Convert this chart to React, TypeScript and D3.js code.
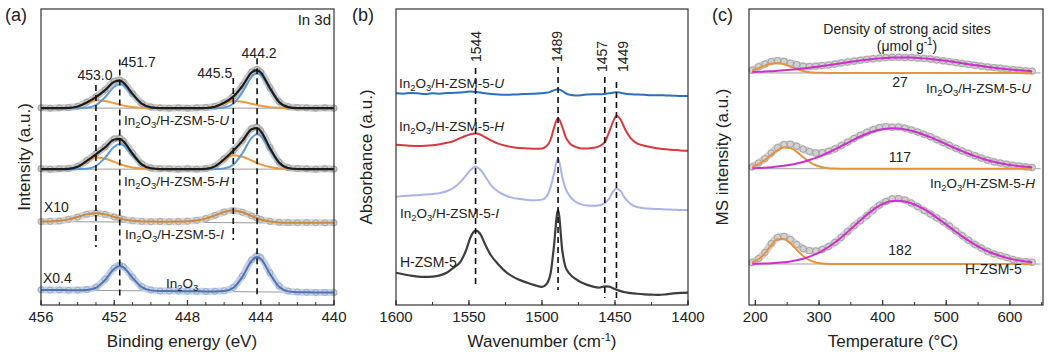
import React from "react";
import * as d3 from "d3";

const FONT = "'Liberation Sans', Arial, Helvetica, sans-serif";
const TOP = 9;
const BOTTOM = 305;

// ---------- (a) In 3d XPS ----------
const xpsEnergy = [456, 455.5, 455, 454.5, 454, 453.5, 453, 452.5, 452, 451.7, 451.5, 451, 450.5, 450, 449.5, 449, 448.5, 448, 447.5, 447, 446.5, 446, 445.5, 445, 444.5, 444.2, 444, 443.5, 443, 442.5, 442, 441.5, 441, 440.5, 440];
const xpsTicks = [456, 452, 448, 444, 440];
const xpsPeaks = [453.0, 451.7, 445.5, 444.2];
const xpsPeakLabels = ["453.0", "451.7", "445.5", "444.2"];
// stacking offsets (a.u.): U, H, I, In2O3
const xpsOffsets = [66.5, 45.9, 27.8, 4.2];

const xpsU = [0.1, 0.0, 0.1, 0.2, 0.6, 2.0, 3.8, 6.2, 9.1, 9.5, 8.8, 4.9, 1.6, 0.4, 0.1, 0.0, 0.1, 0.0, 0.1, 0.2, 0.6, 1.9, 4.0, 7.6, 12.2, 13.1, 12.2, 6.9, 2.2, 0.5, 0.2, 0.1, 0.0, 0.1, 0.0];
const xpsUFit = [0, 0, 0, 0.07, 0.54, 1.94, 3.71, 6.07, 8.92, 9.3, 8.63, 4.82, 1.5, 0.27, 0.02, 0, 0, 0, 0, 0.06, 0.49, 1.8, 3.88, 7.49, 12.04, 12.86, 12.04, 6.8, 2.11, 0.36, 0.04, 0, 0, 0, 0];
const xpsUMain = [0, 0, 0, 0, 0.02, 0.15, 1.01, 3.68, 7.25, 8.1, 7.71, 4.43, 1.37, 0.23, 0.02, 0, 0, 0, 0, 0, 0.02, 0.21, 1.48, 5.36, 10.56, 11.8, 11.23, 6.45, 1.99, 0.33, 0.04, 0, 0, 0, 0];
const xpsUShift = [0, 0, 0, 0.07, 0.52, 1.79, 2.7, 2.39, 1.67, 1.2, 0.92, 0.39, 0.13, 0.04, 0, 0, 0, 0, 0, 0.06, 0.47, 1.59, 2.4, 2.13, 1.48, 1.06, 0.81, 0.35, 0.12, 0.03, 0, 0, 0, 0, 0];

const xpsH = [0.1, 0.0, 0.1, 0.2, 0.9, 2.9, 5.2, 7.5, 10.2, 10.5, 9.5, 5.4, 1.8, 0.4, 0.1, 0.1, 0.0, 0.1, 0.0, 0.2, 1.0, 3.5, 6.3, 9.7, 13.7, 14.2, 13.0, 7.3, 2.4, 0.5, 0.2, 0.1, 0.0, 0.1, 0.0];
const xpsHFit = [0, 0, 0, 0.1, 0.79, 2.77, 5.01, 7.34, 10.0, 10.2, 9.38, 5.2, 1.62, 0.29, 0.02, 0, 0, 0, 0, 0.12, 0.94, 3.35, 6.21, 9.56, 13.48, 13.9, 12.83, 7.14, 2.22, 0.39, 0.04, 0, 0, 0, 0];
const xpsHMain = [0, 0, 0, 0, 0.02, 0.15, 1.06, 3.84, 7.56, 8.45, 8.04, 4.62, 1.43, 0.24, 0.02, 0, 0, 0, 0, 0, 0.02, 0.21, 1.48, 5.36, 10.56, 11.8, 11.23, 6.45, 1.99, 0.33, 0.04, 0, 0, 0, 0];
const xpsHShift = [0, 0, 0, 0.1, 0.77, 2.62, 3.95, 3.5, 2.44, 1.75, 1.34, 0.58, 0.19, 0.05, 0, 0, 0, 0, 0, 0.12, 0.92, 3.14, 4.73, 4.2, 2.92, 2.1, 1.6, 0.69, 0.23, 0.06, 0, 0, 0, 0, 0];

const xpsI = [0.4, 0.45, 0.6, 1.15, 1.9, 2.85, 3.2, 2.8, 1.95, 1.45, 1.1, 0.65, 0.45, 0.35, 0.4, 0.3, 0.4, 0.5, 0.8, 1.4, 2.5, 3.6, 4.1, 3.5, 2.3, 1.55, 1.1, 0.45, 0.15, 0.05, 0.0, 0.05, 0.0, -0.05, 0.0];
const xpsIFit = [0.37, 0.43, 0.64, 1.13, 1.95, 2.81, 3.19, 2.81, 1.95, 1.43, 1.13, 0.64, 0.43, 0.37, 0.35, 0.35, 0.37, 0.46, 0.75, 1.39, 2.48, 3.62, 4.1, 3.52, 2.28, 1.52, 1.09, 0.4, 0.11, 0.02, 0, 0, 0, 0, 0];
const xpsIBase = [0.4, -0.2];

const xpsIn = [0.95, 0.85, 0.9, 0.8, 0.85, 1.0, 1.8, 4.5, 8.3, 9.2, 8.7, 5.2, 2.0, 0.85, 0.55, 0.5, 0.5, 0.45, 0.45, 0.4, 0.45, 0.6, 1.75, 5.6, 11.0, 12.4, 11.8, 6.7, 2.2, 0.5, 0.2, 0.1, 0.05, 0.05, 0.0];
const xpsInFit = [0.9, 0.87, 0.84, 0.82, 0.79, 0.88, 1.62, 4.26, 8.03, 8.94, 8.51, 4.96, 1.83, 0.74, 0.54, 0.51, 0.48, 0.45, 0.42, 0.39, 0.39, 0.51, 1.58, 5.35, 10.73, 12.04, 11.43, 6.38, 1.94, 0.4, 0.13, 0.08, 0.06, 0.03, 0];
const xpsInBase = [0.9, 0];

// ---------- (b) Py-IR ----------
const irWave = [1600, 1595, 1590, 1585, 1580, 1575, 1570, 1565, 1560, 1556, 1552, 1549, 1545.5, 1542, 1539, 1535, 1530, 1525, 1520, 1515, 1510, 1505, 1500, 1497, 1494, 1492, 1489, 1486, 1484, 1481, 1477, 1473, 1469, 1465, 1461, 1457, 1454, 1451, 1449, 1446, 1443, 1439, 1435, 1430, 1425, 1420, 1415, 1410, 1405, 1400];
const irTicks = [1600, 1550, 1500, 1450, 1400];
const irBands = [1545.5, 1489, 1457, 1449];
const irBandLabels = ["1544", "1489", "1457", "1449"];
const irU = [71.5, 71.4, 71.6, 71.5, 71.3, 71.5, 71.4, 71.6, 71.7, 71.8, 72.0, 72.1, 72.0, 71.8, 71.5, 71.3, 71.1, 71.0, 71.1, 71.2, 71.3, 71.4, 71.5, 71.7, 72.1, 72.5, 72.9, 72.3, 71.6, 71.0, 70.8, 70.9, 71.1, 71.2, 71.2, 71.3, 71.5, 71.8, 71.9, 71.7, 71.4, 71.2, 71.1, 71.0, 70.9, 70.9, 70.8, 70.7, 70.6, 70.6];
const irH = [54.1, 54.0, 53.8, 53.7, 53.8, 54.0, 54.3, 54.8, 55.5, 56.4, 57.2, 57.7, 57.9, 57.5, 56.7, 55.6, 54.5, 53.8, 53.3, 53.0, 52.9, 52.8, 52.9, 53.6, 56.0, 59.5, 63.1, 60.0, 57.0, 54.6, 53.4, 52.9, 52.9, 53.1, 53.6, 55.0, 58.5, 62.3, 63.9, 62.5, 59.3, 56.2, 54.6, 53.8, 53.3, 52.9, 52.6, 52.4, 52.2, 52.1];
const irI = [36.6, 36.8, 37.0, 37.1, 37.3, 37.5, 37.8, 38.5, 39.8, 41.5, 43.8, 45.6, 46.7, 45.6, 43.5, 40.5, 38.3, 37.0, 36.2, 35.8, 35.5, 35.4, 35.6, 36.6, 40.0, 44.0, 49.6, 43.0, 39.5, 36.8, 34.9, 34.0, 33.6, 33.5, 33.7, 34.4, 36.0, 38.6, 39.4, 38.4, 36.0, 34.0, 33.1, 32.7, 32.5, 32.4, 32.3, 32.2, 32.1, 32.1];
const irZ = [10.9, 10.4, 9.9, 9.6, 9.5, 9.6, 10.0, 11.0, 12.8, 14.5, 18.5, 22.8, 25.1, 23.8, 20.5, 16.8, 13.8, 11.3, 9.6, 8.4, 7.5, 6.7, 6.1, 7.0, 11.0, 19.0, 32.1, 18.0, 13.0, 10.5, 8.8, 7.6, 6.8, 6.2, 5.9, 6.3, 6.2, 5.6, 5.2, 4.7, 4.3, 4.0, 3.8, 3.6, 3.5, 3.4, 3.6, 3.9, 4.1, 4.2];

// ---------- (c) NH3-TPD ----------
const tpdTemp = [195, 205, 215, 225, 235, 245, 255, 265, 275, 285, 295, 305, 315, 325, 335, 345, 355, 365, 375, 385, 395, 405, 415, 425, 435, 445, 455, 465, 475, 485, 495, 505, 515, 525, 535, 545, 555, 565, 575, 585, 595, 605, 615, 625, 635];
const tpdTicks = [200, 300, 400, 500, 600];
const tpdOffsets = [78.4, 46.05, 13.85];
const acidDensity = [27, 117, 182];

const tpdU = [0.9, 2.1, 3.0, 3.8, 4.1, 3.9, 3.3, 2.8, 2.3, 2.2, 2.3, 2.5, 2.7, 3.0, 3.4, 3.7, 4.0, 4.3, 4.6, 4.8, 5.0, 5.2, 5.3, 5.3, 5.2, 5.2, 5.0, 4.9, 4.7, 4.4, 4.1, 3.8, 3.5, 3.2, 2.9, 2.6, 2.3, 2.0, 1.8, 1.6, 1.3, 1.1, 0.9, 0.7, 0.6];
const tpdULow = [0.86, 1.61, 2.49, 3.18, 3.37, 2.95, 2.14, 1.28, 0.64, 0.26, 0.09, 0.03, 0, 0, 0, 0, 0, 0, 0, 0, 0, 0, 0, 0, 0, 0, 0, 0, 0, 0, 0, 0, 0, 0, 0, 0, 0, 0, 0, 0, 0, 0, 0, 0, 0];
const tpdUHigh = [0.30, 0.38, 0.47, 0.59, 0.72, 0.88, 1.06, 1.27, 1.50, 1.75, 2.03, 2.32, 2.63, 2.95, 3.27, 3.60, 3.91, 4.21, 4.48, 4.72, 4.92, 5.07, 5.18, 5.23, 5.23, 5.18, 5.07, 4.92, 4.72, 4.48, 4.21, 3.91, 3.60, 3.27, 2.95, 2.63, 2.32, 2.03, 1.75, 1.50, 1.27, 1.06, 0.88, 0.72, 0.59];

const tpdH = [0.6, 1.9, 3.4, 5.3, 7.1, 8.2, 8.3, 7.6, 6.6, 5.8, 5.3, 5.4, 5.9, 6.7, 7.8, 9.0, 10.2, 11.3, 12.3, 13.2, 13.9, 14.2, 14.0, 14.1, 13.7, 13.1, 12.4, 11.6, 10.8, 9.8, 8.8, 7.9, 6.9, 6.0, 5.2, 4.4, 3.6, 2.9, 2.3, 1.9, 1.5, 1.1, 0.9, 0.6, 0.4];
const tpdHLow = [0.71, 1.57, 2.94, 4.67, 6.29, 7.18, 6.95, 5.69, 3.96, 2.33, 1.16, 0.49, 0.18, 0.05, 0.01, 0, 0, 0, 0, 0, 0, 0, 0, 0, 0, 0, 0, 0, 0, 0, 0, 0, 0, 0, 0, 0, 0, 0, 0, 0, 0, 0, 0, 0, 0];
const tpdHHigh = [0.16, 0.24, 0.35, 0.51, 0.71, 0.97, 1.32, 1.75, 2.28, 2.92, 3.66, 4.52, 5.48, 6.51, 7.61, 8.73, 9.83, 10.87, 11.80, 12.57, 13.16, 13.53, 13.65, 13.56, 13.28, 12.83, 12.22, 11.48, 10.64, 9.72, 8.77, 7.79, 6.83, 5.91, 5.04, 4.24, 3.52, 2.88, 2.32, 1.85, 1.45, 1.12, 0.86, 0.65, 0.48];

const tpdZ = [0.5, 1.8, 3.9, 6.9, 9.0, 9.3, 8.3, 6.6, 5.2, 4.5, 4.4, 4.9, 5.9, 7.3, 9.0, 11.0, 12.9, 14.6, 16.3, 18.2, 19.9, 21.1, 22.0, 22.1, 21.6, 20.6, 19.4, 18.1, 16.9, 15.6, 14.3, 12.8, 11.2, 9.6, 8.0, 6.6, 5.4, 4.3, 3.4, 2.8, 2.2, 1.5, 1.0, 0.8, 0.6];
const tpdZLow = [0.53, 1.59, 3.65, 6.35, 8.38, 8.48, 7.02, 4.81, 2.73, 1.28, 0.50, 0.16, 0.04, 0, 0, 0, 0, 0, 0, 0, 0, 0, 0, 0, 0, 0, 0, 0, 0, 0, 0, 0, 0, 0, 0, 0, 0, 0, 0, 0, 0, 0, 0, 0, 0];
const tpdZHigh = [0.06, 0.10, 0.16, 0.25, 0.39, 0.59, 0.87, 1.26, 1.79, 2.48, 3.36, 4.45, 5.75, 7.27, 8.97, 10.83, 12.78, 14.74, 16.6, 18.3, 19.69, 20.69, 21.27, 21.39, 21.12, 20.54, 19.65, 18.51, 17.18, 15.69, 14.12, 12.5, 10.89, 9.35, 7.9, 6.57, 5.37, 4.32, 3.45, 2.68, 2.07, 1.56, 1.17, 0.86, 0.62];

type Scale = d3.ScaleLinear<number, number>;

const mkLine = (xs: number[], x: Scale, y: Scale, off: number) =>
  d3
    .line<number>()
    .x((_, i) => x(xs[i]))
    .y((v) => y(v + off))
    .curve(d3.curveMonotoneX);

const Curve = ({ xs, vals, x, y, off, color, width = 2 }: any) => (
  <path d={mkLine(xs, x, y, off)(vals) || ""} fill="none" stroke={color} strokeWidth={width} strokeLinejoin="round" />
);

const Points = ({ xs, vals, x, y, off, halo, ring, r = 3 }: any) => (
  <g>
    <path d={mkLine(xs, x, y, off)(vals) || ""} fill="none" stroke={halo} strokeWidth={r * 2 + 1} strokeLinejoin="round" strokeLinecap="round" />
    {vals.map((v: number, i: number) => (
      <circle key={i} cx={x(xs[i])} cy={y(v + off)} r={r} fill="none" stroke={ring} strokeWidth={0.9} />
    ))}
  </g>
);

const Chem = ({ x, y, tail, italic, anchor = "start", size = 13.5 }: any) => (
  <text x={x} y={y} fontSize={size} textAnchor={anchor} fill="#222">
    In<tspan dy={3} fontSize={size * 0.7}>2</tspan>
    <tspan dy={-3}>O</tspan>
    <tspan dy={3} fontSize={size * 0.7}>3</tspan>
    <tspan dy={-3}>{tail}</tspan>
    {italic ? <tspan fontStyle="italic">{italic}</tspan> : null}
  </text>
);

const BottomAxis = ({ x, ticks, minor, title, titleX }: any) => {
  const [x0, x1] = x.range();
  return (
    <g>
      <rect x={x0} y={TOP} width={x1 - x0} height={BOTTOM - TOP} fill="none" stroke="#333" strokeWidth={1.2} />
      {minor.map((t: number) => (
        <line key={"m" + t} x1={x(t)} x2={x(t)} y1={BOTTOM} y2={BOTTOM - 3} stroke="#333" strokeWidth={1} />
      ))}
      {ticks.map((t: number) => (
        <g key={t}>
          <line x1={x(t)} x2={x(t)} y1={BOTTOM} y2={BOTTOM - 5} stroke="#333" strokeWidth={1.2} />
          <text x={x(t)} y={322} fontSize={15} textAnchor="middle" fill="#222">{t}</text>
        </g>
      ))}
      <text x={titleX} y={347} fontSize={17} textAnchor="middle" fill="#222">{title}</text>
    </g>
  );
};

const YTitle = ({ x, children }: any) => (
  <text transform={`translate(${x},157) rotate(-90)`} fontSize={17} textAnchor="middle" fill="#222">{children}</text>
);

export default function App() {
  const y = d3.scaleLinear().domain([0, 100]).range([BOTTOM, TOP]);

  // (a)
  const xa = d3.scaleLinear().domain([456, 440]).range([41, 334]);
  const dashA = [
    [74.3, 19.6],
    [82.9, 2.4],
    [76.7, 22.0],
    [83.4, 2.4],
  ];
  const peakLab = [
    { dx: -1, y: 80, anchor: "middle" },
    { dx: 1, y: 67, anchor: "start" },
    { dx: -1, y: 78, anchor: "end" },
    { dx: 2, y: 58, anchor: "middle" },
  ];
  const grey = "#c9c9c9";
  const ring = "#9c9c9c";
  const blue = "#5b9bd8";
  const orange = "#ee9a3e";

  // (b)
  const xb = d3.scaleLinear().domain([1600, 1400]).range([396, 688]);
  const dashB = [
    [68, 285],
    [67, 290],
    [77, 298],
    [82, 298],
  ];
  const bandLab = [
    { dx: 0, y: 62 },
    { dx: -1, y: 62 },
    { dx: -3, y: 72 },
    { dx: 7, y: 72 },
  ];

  // (c)
  const xc = d3.scaleLinear().domain([190, 652]).range([749, 1043]);
  const magenta = "#cc30cc";
  const tpdOrange = "#e8923c";
  const tpdSets = [
    { d: tpdU, lo: tpdULow, hi: tpdUHigh },
    { d: tpdH, lo: tpdHLow, hi: tpdHHigh },
    { d: tpdZ, lo: tpdZLow, hi: tpdZHigh },
  ];

  return (
    <svg width={1049} height={352} style={{ position: "absolute", left: 0, top: 0, background: "#fff" }} fontFamily={FONT}>
      {/* ---------- (a) ---------- */}
      <text x={5} y={21} fontSize={18} fill="#222">(a)</text>
      <text x={331} y={25} fontSize={15} textAnchor="end" fill="#222">In 3d</text>
      {/* baselines */}
      {[0, 1].map((k) => (
        <line key={k} x1={xa(456)} x2={xa(440)} y1={y(xpsOffsets[k])} y2={y(xpsOffsets[k])} stroke="#9a9a9a" strokeWidth={1} />
      ))}
      <line x1={xa(456)} x2={xa(440)} y1={y(xpsOffsets[2] + xpsIBase[0])} y2={y(xpsOffsets[2] + xpsIBase[1])} stroke="#9a9a9a" strokeWidth={1} />
      <line x1={xa(456)} x2={xa(440)} y1={y(xpsOffsets[3] + xpsInBase[0])} y2={y(xpsOffsets[3] + xpsInBase[1])} stroke="#9a9a9a" strokeWidth={1} />

      <Points xs={xpsEnergy} vals={xpsU} x={xa} y={y} off={xpsOffsets[0]} halo={grey} ring={ring} />
      <Curve xs={xpsEnergy} vals={xpsUShift} x={xa} y={y} off={xpsOffsets[0]} color={orange} />
      <Curve xs={xpsEnergy} vals={xpsUMain} x={xa} y={y} off={xpsOffsets[0]} color={blue} />
      <Curve xs={xpsEnergy} vals={xpsUFit} x={xa} y={y} off={xpsOffsets[0]} color="#1b1b1b" width={2.2} />

      <Points xs={xpsEnergy} vals={xpsH} x={xa} y={y} off={xpsOffsets[1]} halo={grey} ring={ring} />
      <Curve xs={xpsEnergy} vals={xpsHShift} x={xa} y={y} off={xpsOffsets[1]} color={orange} />
      <Curve xs={xpsEnergy} vals={xpsHMain} x={xa} y={y} off={xpsOffsets[1]} color={blue} />
      <Curve xs={xpsEnergy} vals={xpsHFit} x={xa} y={y} off={xpsOffsets[1]} color="#1b1b1b" width={2.2} />

      <Points xs={xpsEnergy} vals={xpsI} x={xa} y={y} off={xpsOffsets[2]} halo="#d4d4d4" ring="#a3a3a3" />
      <Curve xs={xpsEnergy} vals={xpsIFit} x={xa} y={y} off={xpsOffsets[2]} color="#c98a45" width={2} />

      <Points xs={xpsEnergy} vals={xpsIn} x={xa} y={y} off={xpsOffsets[3]} halo="#c7d2e6" ring="#93a8cc" />
      <Curve xs={xpsEnergy} vals={xpsInFit} x={xa} y={y} off={xpsOffsets[3]} color="#4f72b0" width={2} />

      {xpsPeaks.map((p, i) => (
        <g key={p}>
          <line x1={xa(p)} x2={xa(p)} y1={y(dashA[i][0])} y2={y(dashA[i][1])} stroke="#111" strokeWidth={1.6} strokeDasharray="6,4" />
          <text x={xa(p) + peakLab[i].dx} y={peakLab[i].y} fontSize={14} textAnchor={peakLab[i].anchor} fill="#222">{xpsPeakLabels[i]}</text>
        </g>
      ))}
      <Chem x={124} y={124.5} tail="/H-ZSM-5-" italic="U" />
      <Chem x={124} y={186} tail="/H-ZSM-5-" italic="H" />
      <Chem x={125} y={239} tail="/H-ZSM-5-" italic="I" />
      <Chem x={166} y={288} tail="" />
      <text x={44} y={211.5} fontSize={14} fill="#222">X10</text>
      <text x={43} y={283} fontSize={14} fill="#222">X0.4</text>
      <BottomAxis x={xa} ticks={xpsTicks} minor={d3.range(440, 457, 1)} title="Binding energy (eV)" titleX={182} />
      <YTitle x={30}>Intensity (a.u.)</YTitle>

      {/* ---------- (b) ---------- */}
      <text x={352} y={21} fontSize={18} fill="#222">(b)</text>
      <Curve xs={irWave} vals={irU} x={xb} y={y} off={0} color="#2c6fbd" width={2} />
      <Curve xs={irWave} vals={irH} x={xb} y={y} off={0} color="#d8393f" width={2} />
      <Curve xs={irWave} vals={irI} x={xb} y={y} off={0} color="#a9b4ee" width={2} />
      <Curve xs={irWave} vals={irZ} x={xb} y={y} off={0} color="#3e3e3e" width={2.2} />
      {irBands.map((b, i) => (
        <g key={b}>
          <line x1={xb(b)} x2={xb(b)} y1={dashB[i][0]} y2={dashB[i][1]} stroke="#111" strokeWidth={1.6} strokeDasharray="6,4" />
          <text transform={`translate(${xb(b) + bandLab[i].dx},${bandLab[i].y}) rotate(-90)`} fontSize={14} dominantBaseline="central" fill="#222">
            {irBandLabels[i]}
          </text>
        </g>
      ))}
      <Chem x={399} y={88} tail="/H-ZSM-5-" italic="U" />
      <Chem x={399} y={131} tail="/H-ZSM-5-" italic="H" />
      <Chem x={400} y={217.7} tail="/H-ZSM-5-" italic="I" />
      <text x={400} y={266.7} fontSize={14} fill="#222">H-ZSM-5</text>
      <BottomAxis
        x={xb}
        ticks={irTicks}
        minor={d3.range(1400, 1601, 25)}
        title={
          <>
            Wavenumber (cm<tspan dy={-6} fontSize={11}>-1</tspan>
            <tspan dy={6}>)</tspan>
          </>
        }
        titleX={542}
      />
      <YTitle x={372}>Absorbance (a.u.)</YTitle>

      {/* ---------- (c) ---------- */}
      <text x={712} y={21} fontSize={18} fill="#222">(c)</text>
      {tpdOffsets.map((o, k) => (
        <line key={k} x1={xc(193)} x2={xc(648)} y1={y(o)} y2={y(o)} stroke="#a0a0a0" strokeWidth={1} />
      ))}
      {tpdSets.map((s, k) => (
        <g key={k}>
          <Points xs={tpdTemp} vals={s.d} x={xc} y={y} off={tpdOffsets[k]} halo="#d2d2d2" ring="#9e9e9e" r={3.2} />
          <Curve xs={tpdTemp} vals={s.lo} x={xc} y={y} off={tpdOffsets[k]} color={tpdOrange} width={2} />
          <Curve xs={tpdTemp} vals={s.hi} x={xc} y={y} off={tpdOffsets[k]} color={magenta} width={2} />
        </g>
      ))}
      <text x={907} y={34} fontSize={14} textAnchor="middle" fill="#222">Density of strong acid sites</text>
      <text x={907} y={51} fontSize={14} textAnchor="middle" fill="#222">
        (μmol g<tspan dy={-6} fontSize={10}>-1</tspan>
        <tspan dy={6}>)</tspan>
      </text>
      <text x={900} y={87} fontSize={14} textAnchor="middle" fill="#222">{acidDensity[0]}</text>
      <text x={900} y={162} fontSize={14} textAnchor="middle" fill="#222">{acidDensity[1]}</text>
      <text x={900} y={255} fontSize={14} textAnchor="middle" fill="#222">{acidDensity[2]}</text>
      <Chem x={926} y={93} tail="/H-ZSM-5-" italic="U" />
      <Chem x={1035} y={188} tail="/H-ZSM-5-" italic="H" anchor="end" />
      <text x={965} y={274} fontSize={14} fill="#222">H-ZSM-5</text>
      <BottomAxis x={xc} ticks={tpdTicks} minor={d3.range(200, 651, 50)} title="Temperature (°C)" titleX={893} />
      <YTitle x={728}>MS intensity (a.u.)</YTitle>
    </svg>
  );
}
